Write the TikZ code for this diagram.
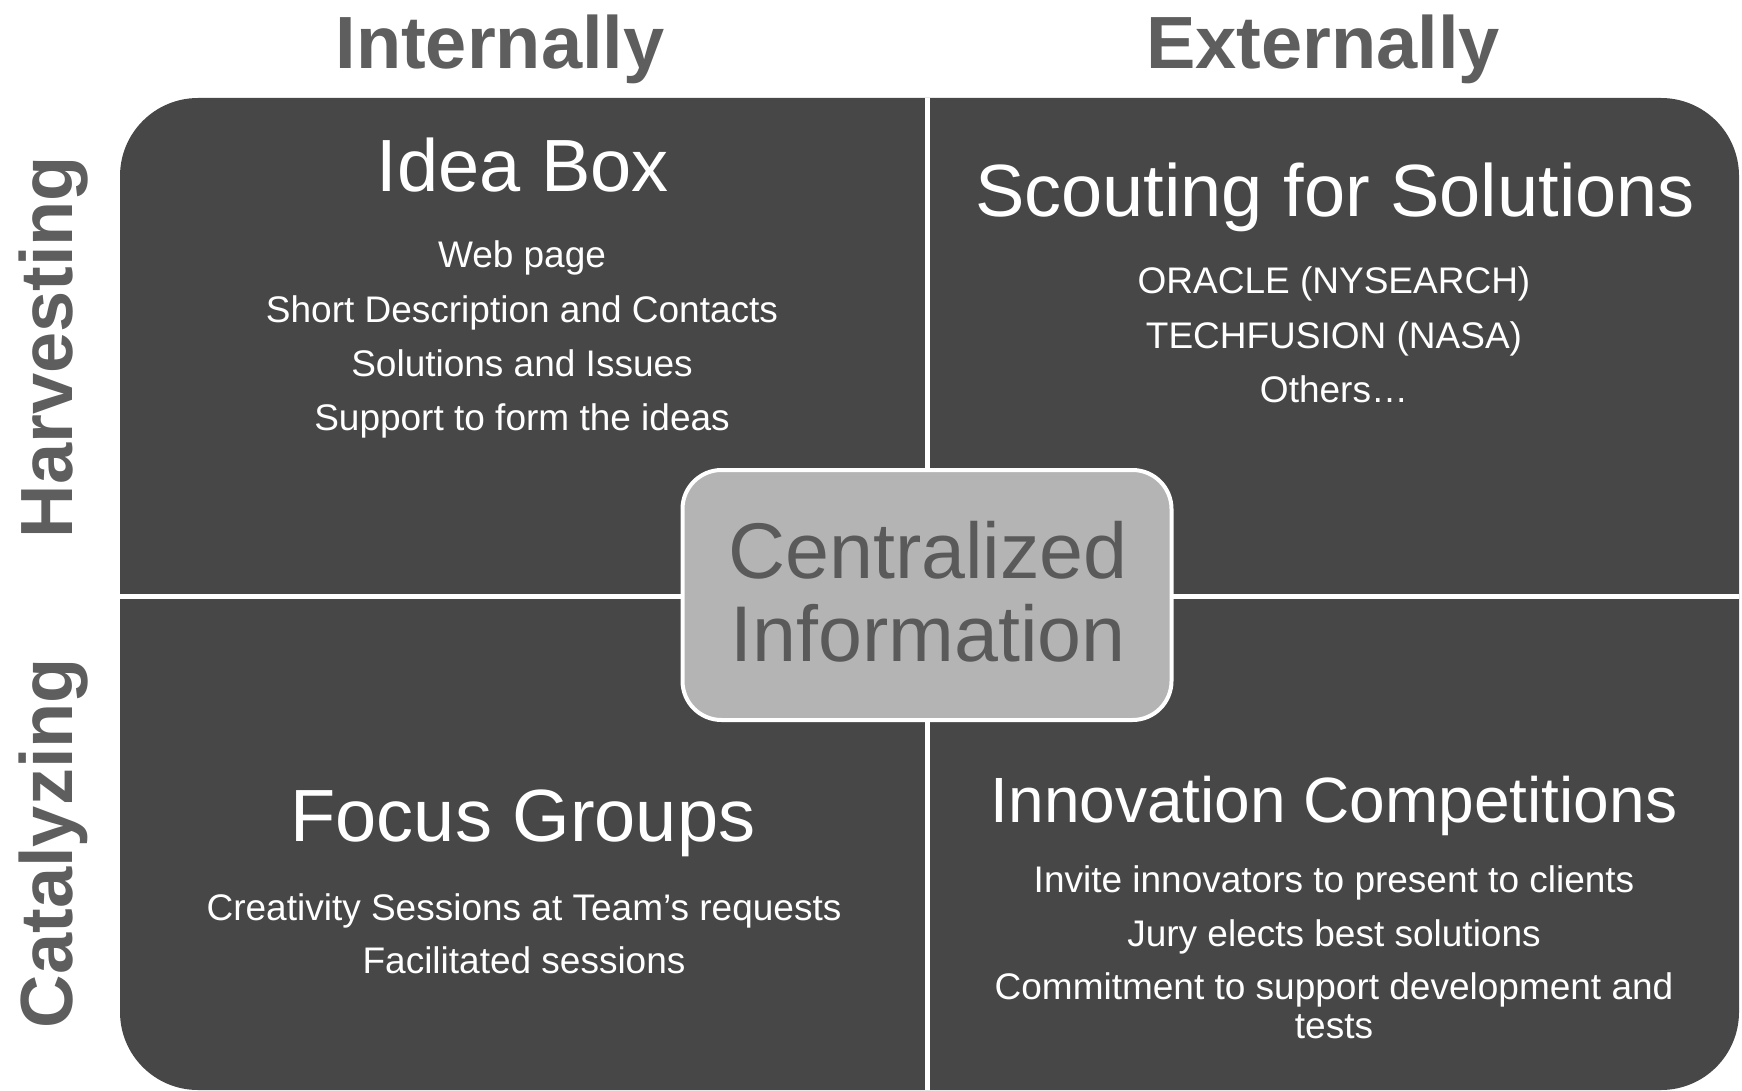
\documentclass[tikz,border=0pt]{standalone}
\usepackage{fontspec}
\setmainfont{Liberation Sans}
\definecolor{boxgray}{HTML}{474747}
\definecolor{centgray}{HTML}{B4B4B4}
\definecolor{hdrgray}{HTML}{5E5E5E}
\definecolor{centtext}{HTML}{5A5A5A}
\begin{document}
\begin{tikzpicture}[x=1pt,y=-1pt,
  hdr/.style={text=hdrgray, font=\fontsize{74}{80}\selectfont\bfseries, inner sep=0pt, anchor=base},
  ttl/.style={text=white, font=\fontsize{74}{80}\selectfont, inner sep=0pt, anchor=base},
  ttlsmall/.style={text=white, font=\fontsize{64}{70}\selectfont, inner sep=0pt, anchor=base},
  itm/.style={text=white, font=\fontsize{37}{42}\selectfont, inner sep=0pt, anchor=base},
  cent/.style={text=centtext, font=\fontsize{79}{85}\selectfont, inner sep=0pt, anchor=base},
  divider/.style={white, line width=5pt}]
\useasboundingbox (0,0) rectangle (1742,1091);
% main rounded panel
\fill[boxgray, rounded corners=78pt] (120,98) rectangle (1739,1090);
% dividers
\coordinate (vtop) at (927,98);
\coordinate (vbot) at (927,1090);
\coordinate (hleft) at (120,596);
\coordinate (hright) at (1739,596);
\draw[divider] (vtop) -- (vbot);
\draw[divider] (hleft) -- (hright);
% column headers
\node[hdr] (internally) at (500,69) {Internally};
\node[hdr] (externally) at (1323,69) {Externally};
% row labels
\node[hdr, rotate=90] (harvesting) at (72,347) {Harvesting};
\node[hdr, rotate=90] (catalyzing) at (72,843) {Catalyzing};
% Idea Box
\node[ttl] (ideabox) at (523,192) {Idea Box};
\node[itm] (ib1) at (522,268) {Web page};
\node[itm] (ib2) at (522,322) {Short Description and Contacts};
\node[itm] (ib3) at (522,376) {Solutions and Issues};
\node[itm] (ib4) at (522,430) {Support to form the ideas};
% Scouting
\node[ttl] (scout) at (1335,217) {Scouting for Solutions};
\node[itm] (sc1) at (1334,294) {ORACLE (NYSEARCH)};
\node[itm] (sc2) at (1334,348) {TECHFUSION (NASA)};
\node[itm] (sc3) at (1334,402) {Others…};
% Focus Groups
\node[ttl] (focus) at (523,841) {Focus Groups};
\node[itm] (fg1) at (524,920) {Creativity Sessions at Team’s requests};
\node[itm] (fg2) at (524,973) {Facilitated sessions};
% Innovation Competitions
\node[ttlsmall] (innov) at (1334,822) {Innovation Competitions};
\node[itm] (ic1) at (1334,892) {Invite innovators to present to clients};
\node[itm] (ic2) at (1334,946) {Jury elects best solutions};
\node[itm] (ic3) at (1334,999) {Commitment to support development and};
\node[itm] (ic4) at (1334,1038) {tests};
% centre box
\node[draw=white, line width=4pt, fill=centgray, rounded corners=39pt,
      minimum width=489pt, minimum height=250pt, inner sep=0pt] (centre) at (927,595) {};
\node[cent] (c1) at (928,578) {Centralized};
\node[cent] (c2) at (928,661) {Information};
\end{tikzpicture}
\end{document}
